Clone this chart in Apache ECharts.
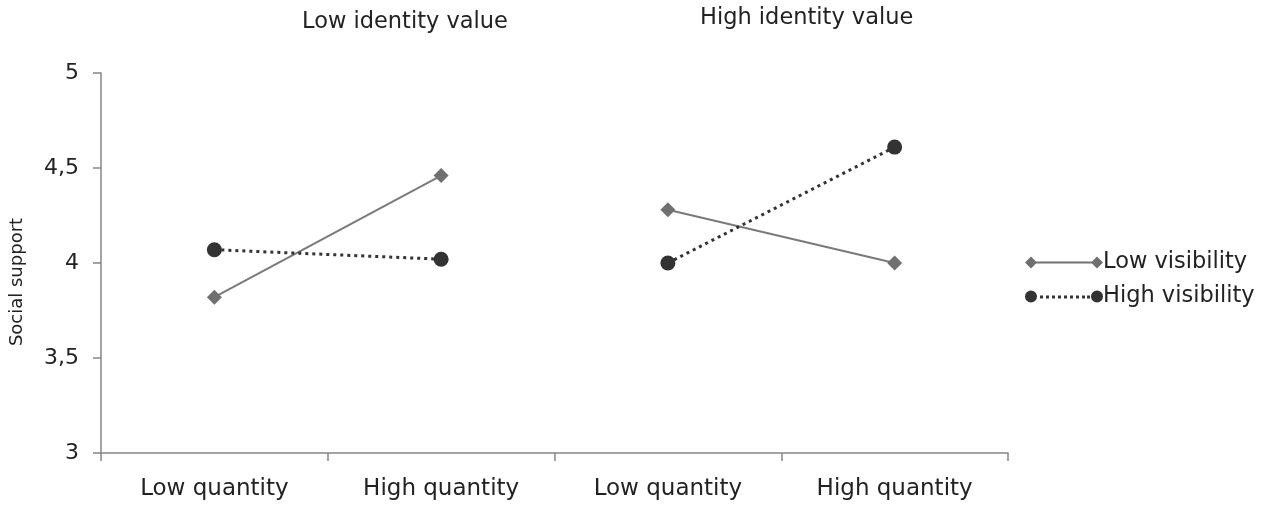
<!DOCTYPE html>
<html>
<head>
<meta charset="utf-8">
<script src="https://cdn.jsdelivr.net/npm/echarts@6/dist/echarts.min.js"></script>
<style>
  html, body { margin: 0; padding: 0; background: #fff; }
  #chart { width: 1271px; height: 517px; }
</style>
</head>
<body>
<div id="chart"></div>
<script>
// categories along x
var categories = ['Low quantity', 'High quantity', 'Low quantity', 'High quantity'];
var yTicks = [3, 3.5, 4, 4.5, 5];

// values per group (low identity value / high identity value)
var lowVisLowId = [3.82, 4.46];
var lowVisHighId = [4.28, 4.00];
var highVisLowId = [4.07, 4.02];
var highVisHighId = [4.00, 4.61];

var FONT = '"DejaVu Sans"';

// put left pair in slots 0-1, right pair in slots 2-3 so the line breaks in between
function leftPart(arr) { return [arr[0], arr[1], null, null]; }
function rightPart(arr) { return [null, null, arr[0], arr[1]]; }

var lowStyle = {
    type: 'line',
    name: 'Low visibility',
    symbol: 'diamond',
    symbolSize: 15,
    itemStyle: { color: '#707070' },
    lineStyle: { color: '#7a7a7a', width: 2 },
    z: 3
};
var highStyle = {
    type: 'line',
    name: 'High visibility',
    symbol: 'circle',
    symbolSize: 15,
    itemStyle: { color: '#333333' },
    lineStyle: { color: '#333333', width: 3, type: [3, 4] },
    z: 4
};

function mk(base, data) {
    var s = Object.assign({}, base);
    s.data = data;
    s.connectNulls = false;
    s.animation = false;
    return s;
}

// legend icon paths: marker - line - marker
var lowIcon = 'path://M0,6L6,0L12,6L6,12Z M6,5L72,5L72,7L6,7Z M66,6L72,0L78,6L72,12Z';
var highIcon = 'path://M0,6a6,6 0 1,0 12,0a6,6 0 1,0 -12,0Z' +
    ' M15,5h3v3h-3Z M21,5h3v3h-3Z M27,5h3v3h-3Z M33,5h3v3h-3Z M39,5h3v3h-3Z' +
    ' M45,5h3v3h-3Z M51,5h3v3h-3Z M57,5h3v3h-3Z M62,5h3v3h-3Z' +
    ' M66,6a6,6 0 1,0 12,0a6,6 0 1,0 -12,0Z';

var chart = echarts.init(document.getElementById('chart'));
chart.setOption({
    backgroundColor: '#ffffff',
    animation: false,
    grid: {
        left: 101,
        right: 263,
        top: 73,
        bottom: 64,
        containLabel: false,
        outerBoundsMode: 'none'
    },
    legend: {
        orient: 'vertical',
        left: 1025,
        top: 251,
        padding: 0,
        itemGap: 11,
        itemWidth: 78,
        itemHeight: 12,
        textStyle: { fontFamily: FONT, fontSize: 22.5, color: '#222', padding: [0, 0, 0, -5] },
        itemStyle: { borderWidth: 0 },
        data: [
            { name: 'Low visibility', icon: lowIcon, itemStyle: { color: '#707070' } },
            { name: 'High visibility', icon: highIcon, itemStyle: { color: '#333333' } }
        ]
    },
    graphic: [
        {
            type: 'text', left: 302, top: 11,
            style: { text: 'Low identity value', font: '22.5px ' + FONT, fill: '#222' }
        },
        {
            type: 'text', left: 700, top: 7,
            style: { text: 'High identity value', font: '22.5px ' + FONT, fill: '#222' }
        }
    ],
    xAxis: {
        type: 'category',
        data: categories,
        boundaryGap: true,
        axisLine: { lineStyle: { color: '#868686', width: 1.5 } },
        axisTick: { show: true, interval: 0, length: 8, lineStyle: { color: '#868686', width: 1.5 } },
        axisLabel: { interval: 0, margin: 25, fontFamily: FONT, fontSize: 23, color: '#222' },
        splitLine: { show: false }
    },
    yAxis: {
        type: 'value',
        min: yTicks[0],
        max: yTicks[yTicks.length - 1],
        interval: 0.5,
        name: 'Social support',
        nameLocation: 'middle',
        nameRotate: 90,
        nameGap: 75,
        nameTextStyle: { fontFamily: FONT, fontSize: 18, color: '#222', padding: [0, 38, 0, 0] },
        axisLine: { show: true, lineStyle: { color: '#868686', width: 1.5 } },
        axisTick: { show: true, length: 8, lineStyle: { color: '#868686', width: 1.5 } },
        axisLabel: {
            margin: 22,
            fontFamily: FONT,
            fontSize: 22,
            color: '#222',
            formatter: function (v) { return String(v).replace('.', ','); }
        },
        splitLine: { show: false }
    },
    series: [
        mk(lowStyle, leftPart(lowVisLowId)),
        mk(lowStyle, rightPart(lowVisHighId)),
        mk(highStyle, leftPart(highVisLowId)),
        mk(highStyle, rightPart(highVisHighId))
    ]
});
</script>
</body>
</html>
